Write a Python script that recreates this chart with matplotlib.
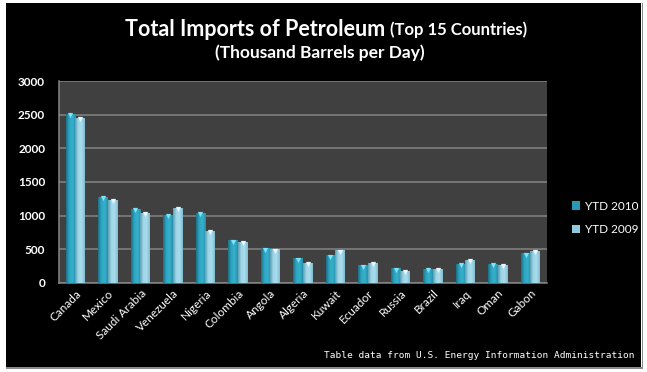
import numpy as np
import matplotlib
matplotlib.use("Agg")
import matplotlib.pyplot as plt
from matplotlib.patches import Rectangle
from matplotlib.colors import LinearSegmentedColormap

countries = ["Canada", "Mexico", "Saudi Arabia", "Venezuela", "Nigeria", "Colombia",
             "Angola", "Algeria", "Kuwait", "Ecuador", "Russia", "Brazil", "Iraq",
             "Oman", "Gabon"]
ytd_2010 = [2520, 1275, 1100, 1010, 1040, 630, 512, 363, 408, 259, 214, 204, 278, 278, 438]
ytd_2009 = [2450, 1230, 1040, 1115, 775, 606, 497, 293, 482, 293, 174, 204, 338, 263, 472]
series_labels = ["YTD 2010", "YTD 2009"]
yticks = [0, 500, 1000, 1500, 2000, 2500, 3000]

W, H = 647, 372
fig = plt.figure(figsize=(W / 100, H / 100), dpi=100, facecolor="white")

# black chart frame
fig.patches.append(Rectangle((6 / W, 1 - 367 / H), (641 - 6) / W, (367 - 3) / H,
                             transform=fig.transFigure, facecolor="black",
                             edgecolor="none", zorder=-5))
fig.patches.append(Rectangle((6 / W, 1 - 368.5 / H), (642 - 6) / W, 1.2 / H,
                             transform=fig.transFigure, facecolor="#8a8a8a",
                             edgecolor="none", zorder=-5))
fig.patches.append(Rectangle((641.5 / W, 1 - 368.5 / H), 1.2 / W, (368.5 - 3) / H,
                             transform=fig.transFigure, facecolor="#8a8a8a",
                             edgecolor="none", zorder=-5))

ax = fig.add_axes([59 / W, 1 - 282.7 / H, (546.7 - 59) / W, (282.7 - 81.3) / H])
ax.set_zorder(2)
ax.set_facecolor("#404040")

x = np.arange(len(countries))
bw = 0.3
b1 = ax.bar(x - bw / 2, ytd_2010, width=bw, color="#2a9ab4", zorder=3, label=series_labels[0])
b2 = ax.bar(x + bw / 2, ytd_2009, width=bw, color="#8ccbe0", zorder=3, label=series_labels[1])

cm1 = LinearSegmentedColormap.from_list("c1", ["#1b6f84", "#2fa6c2", "#35b0cc", "#2890aa"])
cm2 = LinearSegmentedColormap.from_list("c2", ["#5a9fb5", "#9fd6e8", "#a8dbeb", "#7fbcd0"])
grad = np.linspace(0, 1, 64).reshape(1, -1)
for bars, cm in ((b1, cm1), (b2, cm2)):
    for p in bars:
        x0, y0 = p.get_x(), p.get_y()
        w, h = p.get_width(), p.get_height()
        im = ax.imshow(grad, cmap=cm, aspect="auto", extent=(x0, x0 + w, y0, y0 + h),
                       zorder=3.5, interpolation="bilinear")
        im.set_clip_path(p)

# little cap triangles
ax.scatter(x - bw / 2, np.array(ytd_2010) - 18, marker="v", s=14, color="#7fe3f5",
           zorder=4, linewidths=0)
ax.scatter(x + bw / 2, np.array(ytd_2009) - 18, marker="v", s=14, color="#e8f7fc",
           zorder=4, linewidths=0)

ax.set_xlim(-0.5, len(countries) - 0.5)
ax.set_ylim(0, 3000)
ax.set_yticks(yticks)
ax.yaxis.grid(True, color="#858585", linewidth=1.1, zorder=1)
ax.set_axisbelow(True)
for s in ("top", "right"):
    ax.spines[s].set_visible(False)
for s in ("left", "bottom"):
    ax.spines[s].set_color("#858585")
    ax.spines[s].set_linewidth(1.1)
ax.tick_params(axis="both", length=0, colors="white", labelsize=8.5)
ax.tick_params(axis="y", pad=10)
ax.set_xticks(x)
ax.set_xticklabels(countries, rotation=45, ha="right", rotation_mode="anchor",
                   fontsize=8.5, color="white", family="Lato")
for lab in ax.get_yticklabels():
    lab.set_family("Lato")
    lab.set_fontweight("bold")

# titles
t1 = fig.text(0, 1 - 29 / H, "Total Imports of Petroleum", ha="left", va="center",
              fontsize=15.5, fontweight="bold", color="white", family="Lato")
t2 = fig.text(0, 1 - 29.5 / H, " (Top 15 Countries)", ha="left", va="center",
              fontsize=12, fontweight="bold", color="white", family="Lato")
r = fig.canvas.get_renderer()
w1 = t1.get_window_extent(r).width
w2 = t2.get_window_extent(r).width
start = 326 - (w1 + w2) / 2
t1.set_x(start / W)
t2.set_x((start + w1) / W)
fig.text(320 / W, 1 - 53 / H, "(Thousand Barrels per Day)", ha="center", va="center",
         fontsize=12.5, fontweight="bold", color="white", family="Lato")

# legend
leg = ax.legend(handles=[b1, b2], labels=series_labels, loc="center left",
                bbox_to_anchor=(561 / W, 1 - 218 / H), bbox_transform=fig.transFigure,
                frameon=False, handlelength=0.7, handleheight=0.7,
                handletextpad=0.4, labelspacing=1.1, prop={"family": "Lato", "size": 8.5})
for t in leg.get_texts():
    t.set_color("white")

fig.text(634 / W, 1 - 356 / H, "Table data from U.S. Energy Information Administration",
         ha="right", va="center", fontsize=6.8, color="white", family="DejaVu Sans Mono")

fig.savefig("out.png", dpi=100, facecolor="white")
